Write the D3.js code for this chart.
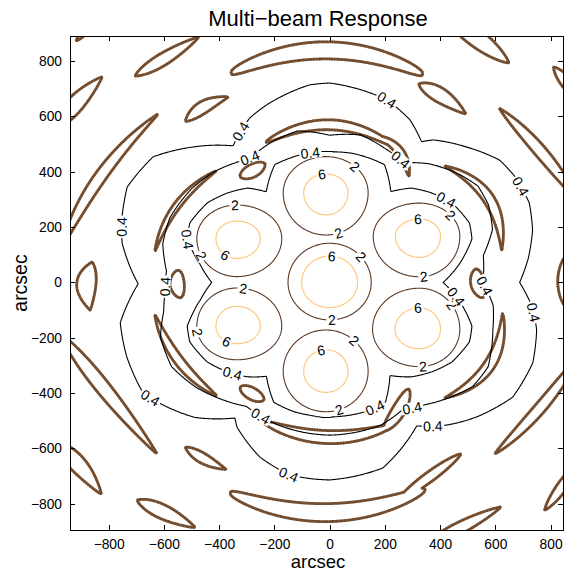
<!DOCTYPE html>
<html>
<head>
<meta charset="utf-8">
<script src="https://cdn.jsdelivr.net/npm/d3@7/dist/d3.min.js"></script>
<style>
  html, body { margin: 0; padding: 0; background: #fff; }
  svg text { font-family: "Liberation Sans", Arial, Helvetica, sans-serif; fill: #000; }
</style>
</head>
<body>
<svg id="chart" width="569" height="572"></svg>
<script>
// ---------------- chart data (offsets in arcsec) ----------------
const titleText = "Multi\u2212beam Response";
const axisLabel = "arcsec";
const xTicks = [-800, -600, -400, -200, 0, 200, 400, 600, 800];
const yTicks = [-800, -600, -400, -200, 0, 200, 400, 600, 800];
const contourLevels = [0.4, 2, 6];

// seven beams: centre, top, upper-left, lower-left, bottom, lower-right, upper-right
const beamX     = [0,   -13, -336, -336,  -13,  325,  325];
const beamY     = [0,   324,  159, -158, -321, -169,  167];
const beamGain  = [9.3, 7.5,  7.5,  7.5,  7.5,  7.5,  7.5];
// main-lobe half widths to the first null, per side
const beamWest  = [170, 181, 169, 169, 181, 198, 195];
const beamEast  = [170, 178, 190, 190, 178, 171, 171];
const beamSouth = [153, 178, 161, 142, 171, 158, 171];
const beamNorth = [160, 153, 141, 161, 174, 173, 140];

// radial structure around the array centre: [position angle (deg), radius (arcsec)]
const ringCore = [[0,411],[8,474],[17,539],[23,550],[33,528],[41,492],[49,452],[56,396],[65,470],[80,474],[90,472],[100,474],[115,470],[125,400],[131,452],[139,492],[147,528],[157,550],[163,539],[172,474],[180,427],[188,474],[197,539],[203,550],[213,528],[221,492],[229,452],[236,409],[245,478],[255,485],[270,486],[285,485],[295,478],[303,401],[311,452],[319,492],[327,528],[337,550],[343,539],[352,474]];
const ringInner = [[0,555],[10,565],[18,620],[26,640],[33,640],[40,610],[50,560],[58,510],[68,525],[78,545],[90,532],[102,560],[114,547],[122,534],[128,550],[136,578],[146,604],[158,624],[167,620],[176,592],[184,598],[190,610],[198,644],[208,648],[218,615],[226,581],[236,540],[250,548],[270,552],[290,548],[300,530],[308,561],[315,595],[324,640],[332,650],[344,615],[352,598]];
const ringOuter = [[0,688],[7,725],[14.5,759],[21.7,778],[30,772],[35.7,758],[44.6,697],[54,637],[56.8,608],[63.7,656],[72.6,692],[90,721],[95.8,718],[109.6,681],[116,661],[125.3,605],[135.3,696],[144.6,784],[154.8,810],[162.5,788],[169.2,765],[176.3,720],[180.4,693],[190.9,772],[200,782],[210.6,785],[217.4,741],[225,690],[235,598],[237.3,621],[248.2,680],[258.3,711],[270,714],[286,698],[301.3,607],[309.5,668],[317.6,721],[328,782],[338.4,791],[347.1,769],[353,740]];
const ringLow = 0.2, ringHigh = 0.6;

// sidelobe islands: [tipA x, tipA y, mid x, mid y, tipB x, tipB y, width, shape, skew]
const sidelobeIslands = [
  [-918, 873, -874, 920, -831, 967, 22, 0.8, 0],
  [-704, 747, -588, 816, -473, 888, 43, 0.8, 0.3],
  [-357, 758, 1, 839, 337, 754, 62, 0.35, 0],
  [-523, 582, -455, 635, -366, 671, 43, 0.9, 0.3],
  [-994, 559, -907, 660, -824, 743, 58, 0.8, 0.3],
  [-968, 132, -802, 421, -621, 609, 42, 0.8, 0.15],
  [-975, -186, -802, -403, -625, -620, 50, 0.8, 0.3],
  [-860, 74, -881, -9, -867, -100, 69, 0.9, 0.2],
  [-994, -577, -903, -667, -827, -765, 58, 0.8, 0.3],
  [-697, -787, -592, -835, -487, -886, 50, 0.8, 0.3],
  [-523, -595, -455, -638, -375, -676, 36, 0.9, 0.3],
  [-361, -761, 1, -832, 345, -750, 65, 0.4, 0],
  [247, -787, 356, -707, 475, -620, 36, 0.7, 0],
  [334, -960, 479, -884, 620, -812, 43, 0.8, 0.2],
  [779, -823, 833, -750, 898, -653, 36, 0.8, 0],
  [399, 986, 524, 890, 649, 794, 65, 0.8, 0],
  [811, 779, 858, 722, 905, 660, 40, 0.8, 0],
  [616, 628, 746, 494, 898, 298, 43, 0.8, 0],
  [862, 103, 855, 2, 862, -96, 58, 0.7, 0],
  [598, -620, 743, -476, 905, -262, 40, 0.8, 0],
  [323, 718, 403, 675, 493, 609, 51, 0.8, 0.35],
  [-324, 382, -281, 403, -234, 429, 47, 0.6, 0],
  [-632, 114, -556, 273, -411, 403, 25, 0.8, 0],
  [-230, 508, 1, 570, 236, 490, 36, 0.5, 0],
  [175, 530, 254, 472, 287, 385, 29, 0.7, 0],
  [417, 421, 576, 302, 623, 118, 40, 0.8, 0],
  [529, 49, 536, -2, 554, -56, 51, 0.6, 0],
  [-549, 45, -552, -5, -541, -56, 51, 0.6, 0],
  [-632, -118, -570, -251, -408, -411, 33, 0.8, 0],
  [-324, -378, -285, -400, -238, -425, 43, 0.6, 0],
  [-238, -505, -6, -559, 225, -519, 47, 0.5, 0],
  [196, -537, 251, -461, 287, -385, 47, 0.6, 0],
  [417, -418, 576, -302, 627, -110, 40, 0.8, 0]
];

// contour label anchors (arcsec), snapped onto their contour
const labelAt6 = [[-29,395],[320,232],[7,88],[-373,106],[-373,-214],[320,-100],[-29,-256]];
const labelAt2 = [[92,419],[31,178],[-343,280],[-469,93],[441,244],[339,27],[122,100],[7,-142],[-313,-33],[-475,-178],[435,-88],[339,-305],[92,-208],[31,-449]];
const labelAt04 = [[-71,473],[-288,449],[-318,545],[-517,154],[-596,-15],[429,310],[248,431],[556,-15],[465,-45],[-349,-323],[146,-413],[290,-407],[-245,-476],[207,660],[688,345],[732,-110],[-144,-689],[-766,201],[-650,-418],[374,-515]];

// ---------------- layout ----------------
const box = { left: 70, right: 563, top: 36, bottom: 530 };
const xDomain = [-940, 845], yDomain = [-895, 891];
const xs = d3.scaleLinear().domain(xDomain).range([box.left, box.right]);
const ys = d3.scaleLinear().domain(yDomain).range([box.bottom, box.top]);
const levelColor = { 0.4: "#000000", 2: "#5b3924", 6: "#ffc77f" };

// ---------------- sampled grids ----------------
const cell = 3;
const gLeft = xDomain[0] - 60, gRight = xDomain[1] + 60;
const gTop = yDomain[1] + 60, gBottom = yDomain[0] - 60;
const nx = Math.ceil((gRight - gLeft) / cell) + 1;
const ny = Math.ceil((gTop - gBottom) / cell) + 1;

function buildLookup(table) {
  const n = table.length, lut = new Float64Array(1442);
  for (let k = 0; k < 1442; k++) {
    const a = (k % 1440) / 4;
    let i = 0;
    for (let j = 0; j < n; j++) if (table[j][0] <= a) i = j;
    const j2 = (i + 1) % n;
    const a0 = table[i][0], a1 = table[j2][0] + (j2 === 0 ? 360 : 0);
    lut[k] = table[i][1] + (table[j2][1] - table[i][1]) * (a - a0) / (a1 - a0);
  }
  return lut;
}
const lutCore = buildLookup(ringCore), lutInner = buildLookup(ringInner), lutOuter = buildLookup(ringOuter);
function lookup(lut, f) { const k = Math.floor(f), t = f - k; return lut[k] * (1 - t) + lut[k + 1] * t; }

function ringValue(r, rc, ri, ro) {
  const d = 15, mid = (ringLow + ringHigh) / 2, amp = (ringHigh - ringLow) / 2;
  const ramp = s => mid + amp * Math.max(-1, Math.min(1, s / d));
  if (r < (rc + ri) / 2) return ramp(rc - r);
  if (r < (ri + ro) / 2) return ramp(r - ri);
  return ramp(ro - r);
}

const response = new Float64Array(nx * ny);
for (let j = 0; j < ny; j++) {
  const Y = gTop - j * cell;
  for (let i = 0; i < nx; i++) {
    const X = gLeft + i * cell;
    let s = 0;
    for (let b = 0; b < beamX.length; b++) {
      const dx = X - beamX[b], dy = Y - beamY[b];
      const ax = dx < 0 ? beamWest[b] : beamEast[b];
      const ay = dy < 0 ? beamSouth[b] : beamNorth[b];
      const q = (dx / ax) * (dx / ax) + (dy / ay) * (dy / ay);
      if (q < 1) s += beamGain[b] * (1 - q);
    }
    const r = Math.hypot(X, Y);
    let th = Math.atan2(Y, X) * 180 / Math.PI;
    if (th < 0) th += 360;
    const f = Math.min(th * 4, 1439.999);
    const g = ringValue(r, lookup(lutCore, f), lookup(lutInner, f), lookup(lutOuter, f));
    response[j * nx + i] = Math.max(s, g);
  }
}

const sidelobe = new Float64Array(nx * ny).fill(-1);
sidelobeIslands.forEach(([ax, ay, mx, my, bx, by, w, shape, skew]) => {
  const cx = (ax + bx) / 2, cy = (ay + by) / 2;
  const len = Math.hypot(bx - ax, by - ay), half = len / 2;
  const ux = (bx - ax) / len, uy = (by - ay) / len;
  const vx = -uy, vy = ux;
  const bow = (mx - cx) * vx + (my - cy) * vy;
  const reach = half + Math.abs(bow) + w;
  const i0 = Math.max(0, Math.floor((cx - reach - gLeft) / cell)), i1 = Math.min(nx - 1, Math.ceil((cx + reach - gLeft) / cell));
  const j0 = Math.max(0, Math.floor((gTop - (cy + reach)) / cell)), j1 = Math.min(ny - 1, Math.ceil((gTop - (cy - reach)) / cell));
  for (let j = j0; j <= j1; j++) {
    const Y = gTop - j * cell;
    for (let i = i0; i <= i1; i++) {
      const X = gLeft + i * cell;
      const px = X - cx, py = Y - cy;
      const t = (px * ux + py * uy) / half;
      if (t <= -1 || t >= 1) continue;
      const across = px * vx + py * vy;
      const u = 1 - t * t;
      const h = (w / 2) * Math.pow(u, shape) * (1 - skew * t);
      const v = Math.max(-1, 1 - Math.abs(across - bow * u) / h);
      const k = j * nx + i;
      if (v > sidelobe[k]) sidelobe[k] = v;
    }
  }
});

// ---------------- drawing ----------------
const svg = d3.select("#chart");
const toScreen = (gx, gy) => [xs(gLeft + (gx - 0.5) * cell), ys(gTop - (gy - 0.5) * cell)];
const proj = d3.geoTransform({ point(px, py) { const p = toScreen(px, py); this.stream.point(p[0], p[1]); } });
const path = d3.geoPath(proj);
const contourGen = d3.contours().size([nx, ny]);

svg.append("defs").append("clipPath").attr("id", "plotClip")
  .append("rect").attr("x", box.left).attr("y", box.top)
  .attr("width", box.right - box.left).attr("height", box.bottom - box.top);

const plotG = svg.append("g").attr("clip-path", "url(#plotClip)");

// sidelobe islands (thick, dotted brown)
const islandGeom = contourGen.contour(sidelobe, 0);
const islandD = path(islandGeom);
plotG.append("path").attr("d", islandD).attr("fill", "none")
  .attr("stroke", "#7d5534").attr("stroke-width", 2.8).attr("stroke-linejoin", "round");
plotG.append("path").attr("d", islandD).attr("fill", "none")
  .attr("stroke", "#55341d").attr("stroke-width", 2.8).attr("stroke-dasharray", "1 1.6").attr("opacity", 0.5);

// response contours
const levelGeom = {};
contourLevels.forEach(lv => {
  const geom = contourGen.contour(response, lv);
  levelGeom[lv] = geom;
  plotG.append("path").attr("d", path(geom)).attr("fill", "none")
    .attr("stroke", levelColor[lv]).attr("stroke-width", lv === 6 ? 1.2 : 1.1)
    .attr("stroke-linejoin", "round");
});

// contour labels, rotated along the line
function screenRings(geom) {
  const rings = [];
  geom.coordinates.forEach(poly => poly.forEach(ring => rings.push(ring.map(p => toScreen(p[0], p[1])))));
  return rings;
}
const labelG = svg.append("g");
function drawLabels(level, anchors, text) {
  const rings = screenRings(levelGeom[level]);
  anchors.forEach(([lx, ly]) => {
    const tx = xs(lx), ty = ys(ly);
    let best = null, bd = Infinity;
    rings.forEach(ring => ring.forEach((p, k) => {
      const d = (p[0] - tx) ** 2 + (p[1] - ty) ** 2;
      if (d < bd) { bd = d; best = { ring, k }; }
    }));
    if (!best) return;
    const ring = best.ring, n = ring.length - 1, k = best.k;
    const p = ring[k], a = ring[(k - 4 + n) % n], b = ring[(k + 4) % n];
    let ang = Math.atan2(b[1] - a[1], b[0] - a[0]) * 180 / Math.PI;
    if (ang > 90) ang -= 180;
    if (ang < -90) ang += 180;
    const g = labelG.append("g").attr("transform", `translate(${p[0]},${p[1]}) rotate(${ang})`);
    const rect = g.append("rect").attr("fill", "#fff");
    const t = g.append("text").attr("text-anchor", "middle").attr("dy", "0.36em")
      .attr("font-size", 14).text(text);
    const wdt = t.node().getComputedTextLength();
    rect.attr("x", -wdt / 2 - 1.5).attr("y", -5.5).attr("width", wdt + 3).attr("height", 11);
  });
}
drawLabels(6, labelAt6, "6");
drawLabels(2, labelAt2, "2");
drawLabels(0.4, labelAt04, "0.4");

// axes: ticks inside on all four sides
const tickFont = 13.8;
const styleAxis = g => {
  g.select(".domain").remove();
  g.selectAll(".tick line").attr("stroke", "#000").attr("shape-rendering", "crispEdges");
  g.selectAll(".tick text").attr("font-size", tickFont).attr("font-family", "Liberation Sans, Arial, sans-serif").attr("fill", "#000");
};
svg.append("g").attr("transform", `translate(0,${box.bottom})`)
  .call(d3.axisBottom(xs).tickValues(xTicks).tickSizeInner(-5).tickSizeOuter(0).tickPadding(9)).call(styleAxis);
svg.append("g").attr("transform", `translate(0,${box.top})`)
  .call(d3.axisTop(xs).tickValues(xTicks).tickSizeInner(-5).tickSizeOuter(0).tickFormat(() => "")).call(styleAxis);
svg.append("g").attr("transform", `translate(${box.left},0)`)
  .call(d3.axisLeft(ys).tickValues(yTicks).tickSizeInner(-5).tickSizeOuter(0).tickPadding(8)).call(styleAxis);
svg.append("g").attr("transform", `translate(${box.right},0)`)
  .call(d3.axisRight(ys).tickValues(yTicks).tickSizeInner(-5).tickSizeOuter(0).tickFormat(() => "")).call(styleAxis);

svg.append("rect").attr("x", box.left).attr("y", box.top)
  .attr("width", box.right - box.left).attr("height", box.bottom - box.top)
  .attr("fill", "none").attr("stroke", "#000").attr("stroke-width", 1).attr("shape-rendering", "crispEdges");

// titles
svg.append("text").attr("x", 318).attr("y", 26).attr("text-anchor", "middle").attr("font-size", 22).text(titleText);
svg.append("text").attr("x", 318).attr("y", 567.5).attr("text-anchor", "middle").attr("font-size", 18.5).text(axisLabel);
svg.append("text").attr("transform", "translate(27,283) rotate(-90)").attr("text-anchor", "middle").attr("font-size", 19.5).text(axisLabel);
</script>
</body>
</html>
